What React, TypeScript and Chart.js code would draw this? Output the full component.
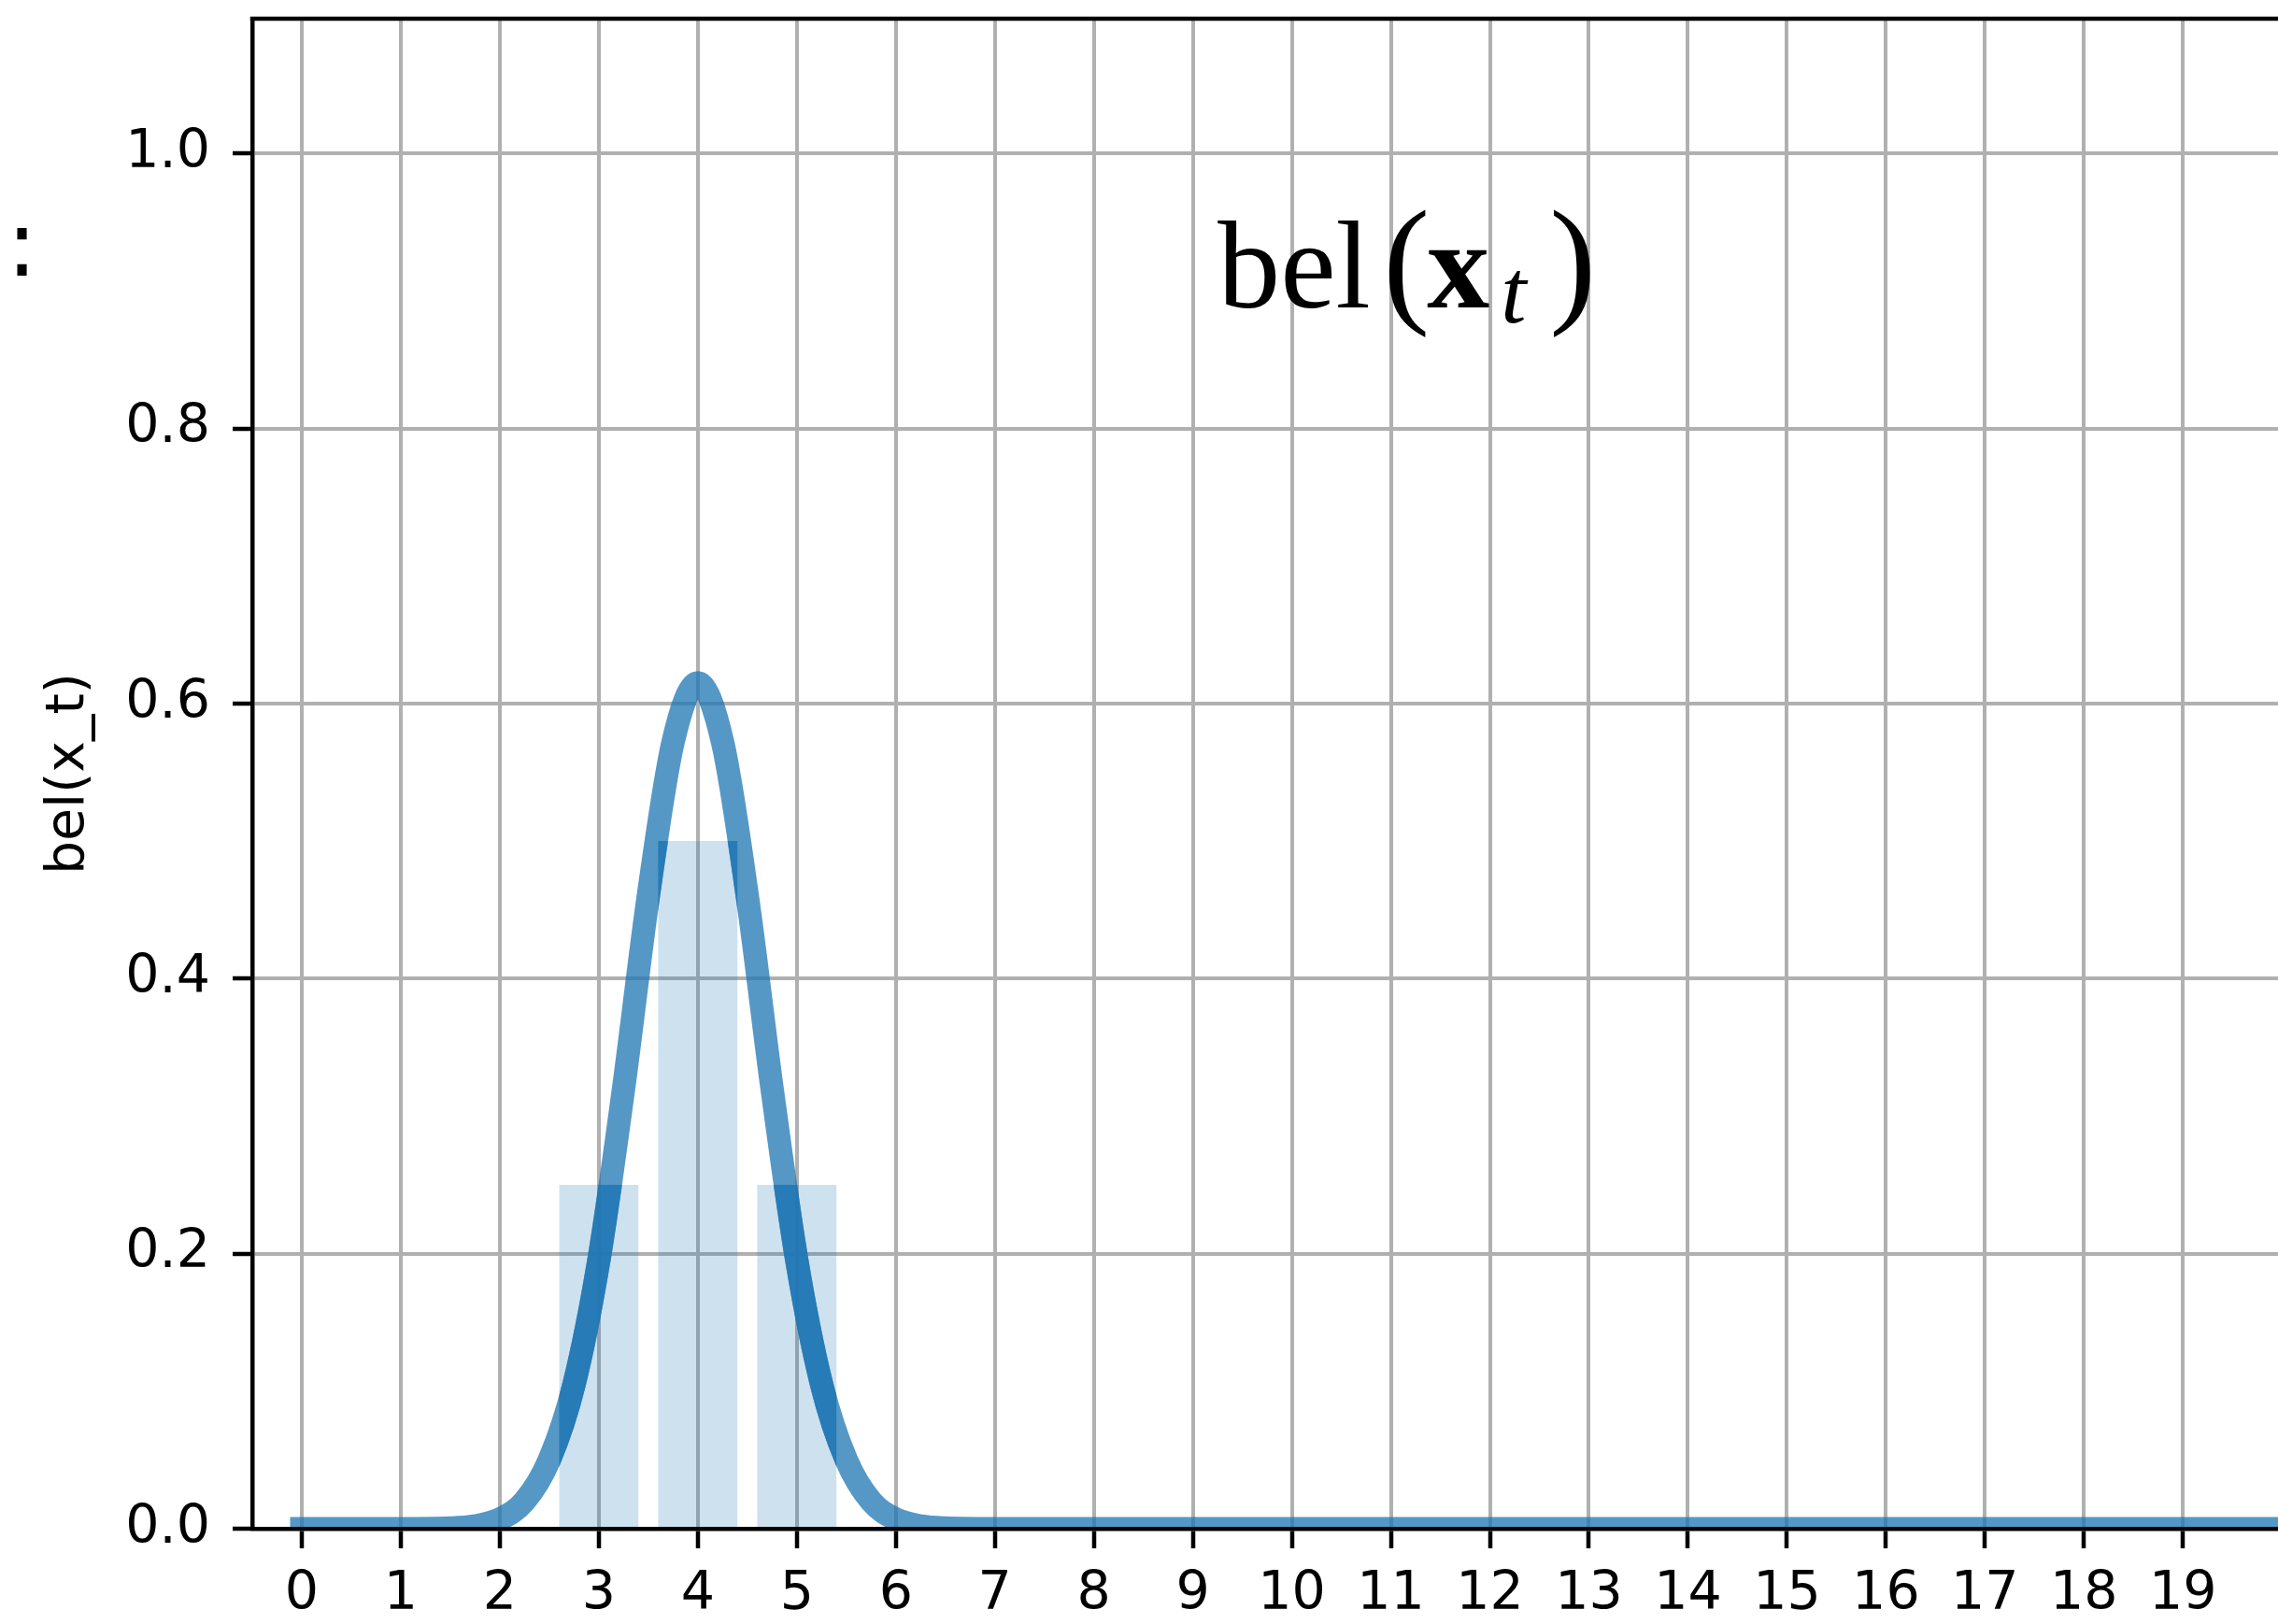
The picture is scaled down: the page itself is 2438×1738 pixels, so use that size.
import React, { useEffect, useRef } from "react";
import { Chart, registerables } from "chart.js";

Chart.register(...registerables);

// ---- data ----
const xTicks = [0, 1, 2, 3, 4, 5, 6, 7, 8, 9, 10, 11, 12, 13, 14, 15, 16, 17, 18, 19];
const yTicks = [0, 0.2, 0.4, 0.6, 0.8, 1.0];

const barX = [3, 4, 5];
const barY = [0.25, 0.5, 0.25];

const curveX = [
  0, 0.5, 1, 1.5, 1.75, 2, 2.25, 2.5, 2.75, 3, 3.25, 3.5, 3.75, 4,
  4.25, 4.5, 4.75, 5, 5.25, 5.5, 5.75, 6, 6.25, 6.5, 7, 8, 9, 10, 11,
  12, 13, 14, 15, 16, 17, 18, 19, 20,
];
const curveY = [
  0, 0, 0, 0.0005, 0.002, 0.007, 0.02, 0.05, 0.105, 0.195, 0.32, 0.46, 0.572, 0.615,
  0.572, 0.46, 0.32, 0.195, 0.105, 0.05, 0.02, 0.007, 0.002, 0.0005, 0, 0, 0, 0, 0,
  0, 0, 0, 0, 0, 0, 0, 0, 0,
];

const yTitle = "bel(x_t)";
const annotationX = 9.25;
const annotationY = 0.888;
const cornerText = ":";

const C0 = "31,119,180";
const LINE_W = 25;

const W = 2438;
const H = 1738;

const overlapPlugin = {
  id: "overlapPlugin",
  afterDatasetsDraw(chart: any) {
    const ctx = chart.ctx;
    const area = chart.chartArea;
    const lineMeta = chart.getDatasetMeta(0);
    const barMeta = chart.getDatasetMeta(1);
    if (!lineMeta || !barMeta || !lineMeta.dataset) return;
    ctx.save();
    ctx.beginPath();
    ctx.rect(area.left, area.top, area.right - area.left, area.bottom - area.top);
    ctx.clip();
    ctx.beginPath();
    barMeta.data.forEach((el: any) => {
      const p = el.getProps(["x", "y", "base", "width"], true);
      const top = Math.min(p.y, p.base);
      const h = Math.abs(p.base - p.y);
      ctx.rect(p.x - p.width / 2, top, p.width, h);
    });
    ctx.clip();
    ctx.beginPath();
    lineMeta.dataset.path(ctx);
    ctx.strokeStyle = `rgba(${C0},0.8)`;
    ctx.lineWidth = LINE_W;
    ctx.lineCap = "square";
    ctx.lineJoin = "round";
    ctx.stroke();
    ctx.restore();
  },
};

const decorPlugin = {
  id: "decorPlugin",
  afterDraw(chart: any) {
    const ctx = chart.ctx;
    const area = chart.chartArea;
    ctx.save();
    // top spine
    ctx.strokeStyle = "#000";
    ctx.lineWidth = 4.5;
    ctx.beginPath();
    ctx.moveTo(area.left - 2.25, area.top);
    ctx.lineTo(area.right, area.top);
    ctx.stroke();

    // annotation bel(x_t)
    const ax = chart.scales.x.getPixelForValue(annotationX);
    const ay = chart.scales.y.getPixelForValue(annotationY);
    ctx.fillStyle = "#000";
    ctx.textAlign = "left";
    ctx.textBaseline = "alphabetic";
    ctx.font = '134px "Liberation Serif"';
    ctx.fillText("bel", ax, ay);
    ctx.font = '150px "Liberation Serif"';
    ctx.fillText("(", ax + 177, ay);
    ctx.font = 'bold 134px "Liberation Serif"';
    ctx.fillText("x", ax + 224, ay);
    ctx.font = 'italic 98px "Liberation Serif"';
    ctx.fillText("t", ax + 303, ay + 16);
    ctx.font = '150px "Liberation Serif"';
    ctx.fillText(")", ax + 355, ay);

    // cropped colon at the far left
    ctx.font = '98px "DejaVu Sans"';
    ctx.fillText(cornerText, 7, 295);
    ctx.restore();
  },
};

export default function App() {
  const ref = useRef<HTMLCanvasElement | null>(null);

  useEffect(() => {
    const canvas = ref.current;
    if (!canvas) return;
    Chart.defaults.font.family = '"DejaVu Sans"';
    Chart.defaults.color = "#000";

    const gridOpts = {
      color: "#b0b0b0",
      lineWidth: 4,
      tickColor: "#000",
      tickWidth: 4.5,
      tickLength: 21,
      drawTicks: true,
      offset: false,
    };
    const borderOpts = { display: true, color: "#000", width: 4.5, z: 1 };

    const chart = new Chart(canvas, {
      type: "bar",
      data: {
        datasets: [
          {
            type: "line",
            data: curveX.map((x, i) => ({ x, y: curveY[i] })),
            borderColor: `rgba(${C0},0.76)`,
            borderWidth: LINE_W,
            pointRadius: 0,
            pointHoverRadius: 0,
            cubicInterpolationMode: "monotone",
            borderCapStyle: "square",
            borderJoinStyle: "round",
            fill: false,
            clip: 0,
            order: 0,
          } as any,
          {
            type: "bar",
            data: barX.map((x, i) => ({ x, y: barY[i] })),
            backgroundColor: `rgba(${C0},0.22)`,
            borderWidth: 0,
            barPercentage: 0.8,
            categoryPercentage: 1.0,
            order: 1,
          } as any,
        ],
      },
      options: {
        responsive: false,
        animation: false,
        devicePixelRatio: 1,
        events: [],
        layout: { padding: { top: 20, right: 0, bottom: 0, left: 0 } },
        plugins: {
          legend: { display: false },
          tooltip: { enabled: false },
        },
        scales: {
          x: {
            type: "linear",
            offset: false,
            min: -0.5,
            max: 19.96,
            afterBuildTicks: (s: any) => {
              s.ticks = xTicks.map((v) => ({ value: v }));
            },
            afterFit: (s: any) => {
              s.height = 102;
              s.paddingLeft = 0;
              s.paddingRight = 0;
            },
            ticks: {
              autoSkip: false,
              maxRotation: 0,
              minRotation: 0,
              padding: 16,
              color: "#000",
              font: { size: 57 },
              callback: (v: any) => String(v),
            },
            grid: gridOpts,
            border: borderOpts,
          },
          y: {
            type: "linear",
            offset: false,
            min: 0,
            max: 1.098,
            afterBuildTicks: (s: any) => {
              s.ticks = yTicks.map((v) => ({ value: v }));
            },
            afterFit: (s: any) => {
              s.width = 270;
              s.paddingTop = 0;
              s.paddingBottom = 0;
            },
            ticks: {
              padding: 24,
              color: "#000",
              font: { size: 57 },
              callback: (v: any) => Number(v).toFixed(1),
            },
            grid: gridOpts,
            border: borderOpts,
            title: {
              display: true,
              text: yTitle,
              color: "#000",
              font: { size: 57 },
              padding: { top: 40, bottom: 0 },
            },
          },
        },
      } as any,
      plugins: [overlapPlugin, decorPlugin],
    });

    return () => {
      chart.destroy();
    };
  }, []);

  return (
    <div style={{ position: "fixed", left: 0, top: 0, width: W, height: H, background: "#fff" }}>
      <canvas ref={ref} width={W} height={H} style={{ width: W, height: H, display: "block" }} />
    </div>
  );
}
